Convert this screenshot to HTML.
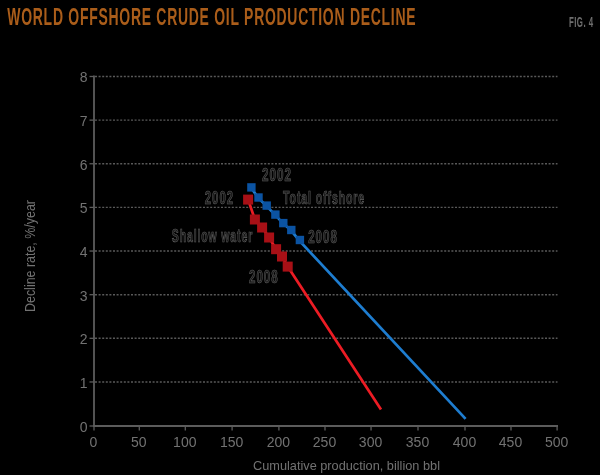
<!DOCTYPE html><html><head><meta charset="utf-8"><style>html,body{margin:0;padding:0;background:#000;width:600px;height:475px;overflow:hidden}svg{display:block;will-change:transform}text{font-family:"Liberation Sans",sans-serif}</style></head><body>
<svg width="600" height="475" viewBox="0 0 600 475">
<rect width="600" height="475" fill="#000"/>
<text x="7.3" y="25.3" font-size="23" font-weight="bold" fill="#aa5d1a" letter-spacing="1.2" textLength="409" lengthAdjust="spacingAndGlyphs">WORLD OFFSHORE CRUDE OIL PRODUCTION DECLINE</text>
<text x="569" y="26.8" font-size="14" font-weight="bold" fill="#6e6e6e" letter-spacing="0.8" textLength="24.5" lengthAdjust="spacingAndGlyphs">FIG. 4</text>
<line x1="95" y1="381.96" x2="557.5" y2="381.96" stroke="#595959" stroke-width="1.4" stroke-dasharray="2 1.6"/>
<line x1="95" y1="338.32" x2="557.5" y2="338.32" stroke="#595959" stroke-width="1.4" stroke-dasharray="2 1.6"/>
<line x1="95" y1="294.68" x2="557.5" y2="294.68" stroke="#595959" stroke-width="1.4" stroke-dasharray="2 1.6"/>
<line x1="95" y1="251.04" x2="557.5" y2="251.04" stroke="#595959" stroke-width="1.4" stroke-dasharray="2 1.6"/>
<line x1="95" y1="207.40" x2="557.5" y2="207.40" stroke="#595959" stroke-width="1.4" stroke-dasharray="2 1.6"/>
<line x1="95" y1="163.76" x2="557.5" y2="163.76" stroke="#595959" stroke-width="1.4" stroke-dasharray="2 1.6"/>
<line x1="95" y1="120.12" x2="557.5" y2="120.12" stroke="#595959" stroke-width="1.4" stroke-dasharray="2 1.6"/>
<line x1="95" y1="76.48" x2="557.5" y2="76.48" stroke="#595959" stroke-width="1.4" stroke-dasharray="2 1.6"/>
<line x1="94" y1="75.5" x2="94" y2="427" stroke="#5c5c5c" stroke-width="1.8"/>
<line x1="93" y1="426" x2="558" y2="426" stroke="#5c5c5c" stroke-width="1.8"/>
<line x1="89.5" y1="426.00" x2="94" y2="426.00" stroke="#5c5c5c" stroke-width="1.3"/>
<text x="87.6" y="431.90" font-size="14" fill="#727272" text-anchor="end">0</text>
<line x1="89.5" y1="381.96" x2="94" y2="381.96" stroke="#5c5c5c" stroke-width="1.3"/>
<text x="87.6" y="387.86" font-size="14" fill="#727272" text-anchor="end">1</text>
<line x1="89.5" y1="338.32" x2="94" y2="338.32" stroke="#5c5c5c" stroke-width="1.3"/>
<text x="87.6" y="344.22" font-size="14" fill="#727272" text-anchor="end">2</text>
<line x1="89.5" y1="294.68" x2="94" y2="294.68" stroke="#5c5c5c" stroke-width="1.3"/>
<text x="87.6" y="300.58" font-size="14" fill="#727272" text-anchor="end">3</text>
<line x1="89.5" y1="251.04" x2="94" y2="251.04" stroke="#5c5c5c" stroke-width="1.3"/>
<text x="87.6" y="256.94" font-size="14" fill="#727272" text-anchor="end">4</text>
<line x1="89.5" y1="207.40" x2="94" y2="207.40" stroke="#5c5c5c" stroke-width="1.3"/>
<text x="87.6" y="213.30" font-size="14" fill="#727272" text-anchor="end">5</text>
<line x1="89.5" y1="163.76" x2="94" y2="163.76" stroke="#5c5c5c" stroke-width="1.3"/>
<text x="87.6" y="169.66" font-size="14" fill="#727272" text-anchor="end">6</text>
<line x1="89.5" y1="120.12" x2="94" y2="120.12" stroke="#5c5c5c" stroke-width="1.3"/>
<text x="87.6" y="126.02" font-size="14" fill="#727272" text-anchor="end">7</text>
<line x1="89.5" y1="76.48" x2="94" y2="76.48" stroke="#5c5c5c" stroke-width="1.3"/>
<text x="87.6" y="82.38" font-size="14" fill="#727272" text-anchor="end">8</text>
<line x1="94.00" y1="426" x2="94.00" y2="430.5" stroke="#5c5c5c" stroke-width="1.3"/>
<text x="93.50" y="446.5" font-size="14" fill="#727272" text-anchor="middle">0</text>
<line x1="139.30" y1="426" x2="139.30" y2="430.5" stroke="#5c5c5c" stroke-width="1.3"/>
<text x="138.80" y="446.5" font-size="14" fill="#727272" text-anchor="middle">50</text>
<line x1="185.30" y1="426" x2="185.30" y2="430.5" stroke="#5c5c5c" stroke-width="1.3"/>
<text x="184.80" y="446.5" font-size="14" fill="#727272" text-anchor="middle">100</text>
<line x1="232.10" y1="426" x2="232.10" y2="430.5" stroke="#5c5c5c" stroke-width="1.3"/>
<text x="231.60" y="446.5" font-size="14" fill="#727272" text-anchor="middle">150</text>
<line x1="278.90" y1="426" x2="278.90" y2="430.5" stroke="#5c5c5c" stroke-width="1.3"/>
<text x="278.40" y="446.5" font-size="14" fill="#727272" text-anchor="middle">200</text>
<line x1="325.00" y1="426" x2="325.00" y2="430.5" stroke="#5c5c5c" stroke-width="1.3"/>
<text x="324.50" y="446.5" font-size="14" fill="#727272" text-anchor="middle">250</text>
<line x1="371.05" y1="426" x2="371.05" y2="430.5" stroke="#5c5c5c" stroke-width="1.3"/>
<text x="370.55" y="446.5" font-size="14" fill="#727272" text-anchor="middle">300</text>
<line x1="418.00" y1="426" x2="418.00" y2="430.5" stroke="#5c5c5c" stroke-width="1.3"/>
<text x="417.50" y="446.5" font-size="14" fill="#727272" text-anchor="middle">350</text>
<line x1="465.00" y1="426" x2="465.00" y2="430.5" stroke="#5c5c5c" stroke-width="1.3"/>
<text x="464.50" y="446.5" font-size="14" fill="#727272" text-anchor="middle">400</text>
<line x1="511.00" y1="426" x2="511.00" y2="430.5" stroke="#5c5c5c" stroke-width="1.3"/>
<text x="510.50" y="446.5" font-size="14" fill="#727272" text-anchor="middle">450</text>
<line x1="557.10" y1="426" x2="557.10" y2="430.5" stroke="#5c5c5c" stroke-width="1.3"/>
<text x="556.60" y="446.5" font-size="14" fill="#727272" text-anchor="middle">500</text>
<text x="253" y="469.8" font-size="13.6" fill="#727272" textLength="187" lengthAdjust="spacingAndGlyphs">Cumulative production, billion bbl</text>
<text transform="translate(34.5,312) rotate(-90)" x="0" y="0" font-size="14" fill="#727272" textLength="112" lengthAdjust="spacingAndGlyphs">Decline rate, %/year</text>
<path d="M251.1 187.7 L258.2 197.8 L266.4 205.9 L275.1 214.9 L283.0 223.4 L291.0 230.3 L299.3 240.6 L465.6 418.8" fill="none" stroke="#1e7dd0" stroke-width="2.7"/>
<path d="M248.1 199.6 L254.9 219.5 L262.1 227.5 L269.1 237.5 L276.1 249.2 L282.0 256.5 L287.7 266.6 L381.0 409.6" fill="none" stroke="#ec1c24" stroke-width="2.7"/>
<rect x="247.20" y="183.20" width="8.4" height="8.4" fill="#0b53a2"/>
<rect x="254.30" y="193.30" width="8.4" height="8.4" fill="#0b53a2"/>
<rect x="262.50" y="201.40" width="8.4" height="8.4" fill="#0b53a2"/>
<rect x="271.20" y="210.40" width="8.4" height="8.4" fill="#0b53a2"/>
<rect x="279.10" y="218.90" width="8.4" height="8.4" fill="#0b53a2"/>
<rect x="287.10" y="225.80" width="8.4" height="8.4" fill="#0b53a2"/>
<rect x="295.70" y="235.80" width="8.4" height="8.4" fill="#0b53a2"/>
<rect x="243.10" y="194.60" width="10.0" height="10.0" fill="#a81016"/>
<rect x="249.90" y="214.50" width="10.0" height="10.0" fill="#a81016"/>
<rect x="257.10" y="222.50" width="10.0" height="10.0" fill="#a81016"/>
<rect x="264.10" y="232.50" width="10.0" height="10.0" fill="#a81016"/>
<rect x="271.10" y="244.20" width="10.0" height="10.0" fill="#a81016"/>
<rect x="277.00" y="251.50" width="10.0" height="10.0" fill="#a81016"/>
<rect x="282.70" y="261.60" width="10.0" height="10.0" fill="#a81016"/>
<text x="204.8" y="203.6" font-size="17.8" font-weight="bold" fill="#1a1a1a" stroke="#626262" stroke-width="0.65" letter-spacing="1.5" textLength="29.2" lengthAdjust="spacingAndGlyphs">2002</text>
<text x="262.1" y="180.7" font-size="17.8" font-weight="bold" fill="#1a1a1a" stroke="#626262" stroke-width="0.65" letter-spacing="1.5" textLength="30.0" lengthAdjust="spacingAndGlyphs">2002</text>
<text x="283.0" y="203.8" font-size="17.8" font-weight="bold" fill="#1a1a1a" stroke="#626262" stroke-width="0.65" letter-spacing="1.5" textLength="82.1" lengthAdjust="spacingAndGlyphs">Total offshore</text>
<text x="171.8" y="242.3" font-size="17.8" font-weight="bold" fill="#1a1a1a" stroke="#626262" stroke-width="0.65" letter-spacing="1.5" textLength="81.3" lengthAdjust="spacingAndGlyphs">Shallow water</text>
<text x="308.2" y="243.2" font-size="17.8" font-weight="bold" fill="#1a1a1a" stroke="#626262" stroke-width="0.65" letter-spacing="1.5" textLength="29.6" lengthAdjust="spacingAndGlyphs">2008</text>
<text x="249.0" y="283.3" font-size="17.8" font-weight="bold" fill="#1a1a1a" stroke="#626262" stroke-width="0.65" letter-spacing="1.5" textLength="29.6" lengthAdjust="spacingAndGlyphs">2008</text>
</svg></body></html>
